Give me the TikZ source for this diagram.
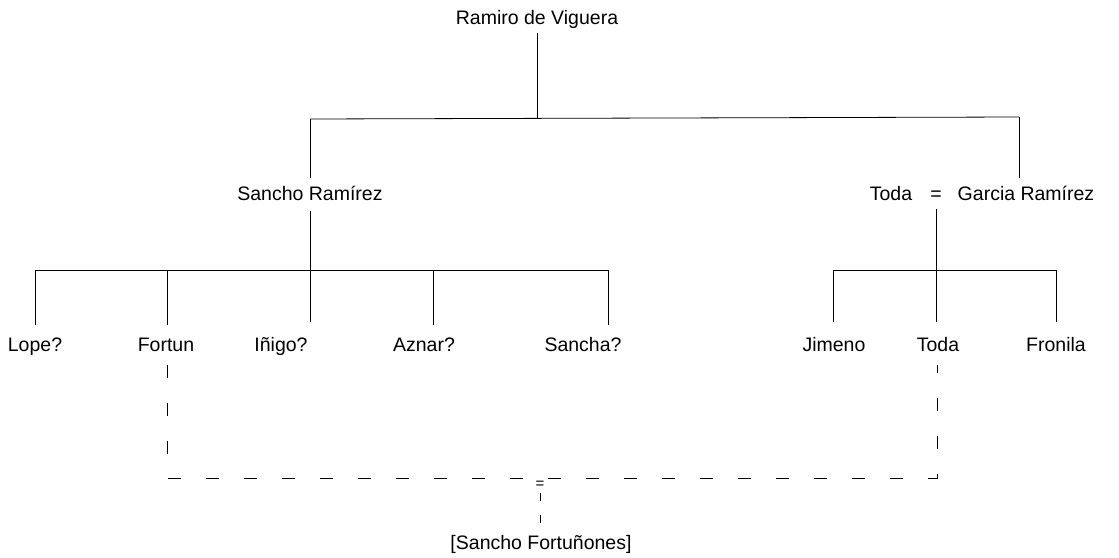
\documentclass[tikz,border=0pt]{standalone}
\usepackage{fontspec}
\setmainfont{Liberation Sans}
\begin{document}
\begin{tikzpicture}[x=1pt,y=-1pt,
  lbl/.style={inner sep=0pt,text height=13.5pt,text depth=4pt,font=\fontsize{19.5}{22}\selectfont},
  tie/.style={line width=0.8pt,black},
  link/.style={line width=0.8pt,black,dash pattern=on 13pt off 25pt}]
\useasboundingbox (0,0) rectangle (1119,557);
% names
\node[lbl] (ramiro) at (537,20) {Ramiro de Viguera};
\node[lbl] (sancho) at (310,196) {Sancho Ramírez};
\node[lbl] (toda1) at (891,196) {Toda};
\node[lbl] (eq1) at (936,196) {=};
\node[lbl] (garcia) at (1026,196) {Garcia Ramírez};
\node[lbl] (lope) at (35,347) {Lope?};
\node[lbl] (fortun) at (166,347) {Fortun};
\node[lbl] (inigo) at (281,347) {Iñigo?};
\node[lbl] (aznar) at (424,347) {Aznar?};
\node[lbl] (sancha) at (583,347) {Sancha?};
\node[lbl] (jimeno) at (834,347) {Jimeno};
\node[lbl] (toda2) at (938,347) {Toda};
\node[lbl] (fronila) at (1056,347) {Fronila};
\node[inner sep=0pt,font=\fontsize{15}{16}\selectfont] (eq2) at (540,485) {=};
\node[lbl] (sf) at (541,545) {[Sancho Fortuñones]};
% junction coordinates
\coordinate (b0) at (537,118);
\coordinate (bl) at (310,119);
\coordinate (br) at (1019,117);
\coordinate (dl) at (310,178);
\coordinate (dr) at (1019,178);
\coordinate (s0) at (310,270);
\coordinate (sL) at (35,270);
\coordinate (sR) at (608,270);
\coordinate (g0) at (936,270);
\coordinate (gL) at (833,270);
\coordinate (gR) at (1056,270);
\coordinate (fb) at (167,478);
\coordinate (tb) at (937,478);
% first generation
\draw[tie] (ramiro.south) ++(0,4) -- (b0);
\draw[tie] (bl) -- (br);
\draw[tie] (bl) -- (dl);
\draw[tie] (br) -- (dr);
% Sancho's children
\draw[tie] (sancho.south) ++(0,6) -- (310,322);
\draw[tie] (sL) -- (sR);
\draw[tie] (sL) -- (35,325);
\draw[tie] (167,270) -- (167,325);
\draw[tie] (433,270) -- (433,325);
\draw[tie] (sR) -- (608,325);
% Toda = Garcia children
\draw[tie] (eq1.south) ++(0,4) -- (936,322);
\draw[tie] (gL) -- (gR);
\draw[tie] (gL) -- (833,322);
\draw[tie] (gR) -- (1056,322);
% marriage of Fortun and Toda
\draw[link] (167,365) -- (fb) -- (tb) -- (937,365);
\draw[link,dash pattern=on 8pt off 14pt] (eq2.south) ++(0,4) -- (540,527);
\end{tikzpicture}
\end{document}
